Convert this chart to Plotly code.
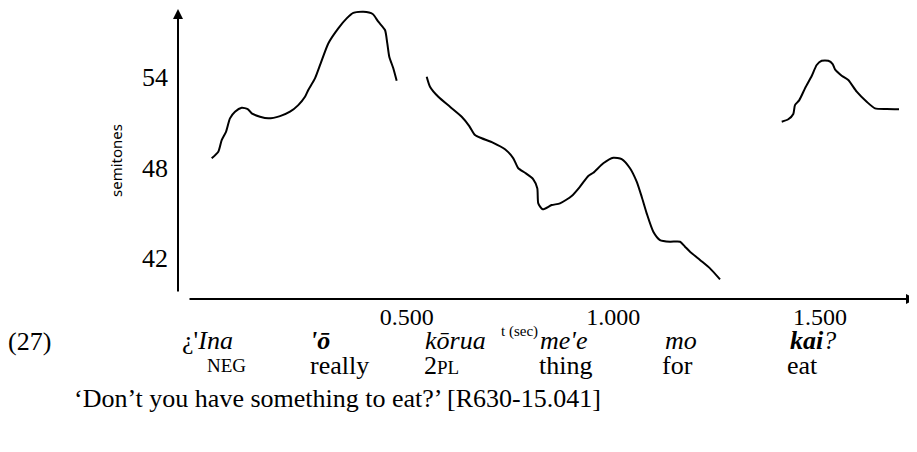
import plotly.graph_objects as go

# pitch track, three voiced stretches (time in s, pitch in semitones)
t_seg1 = [0.0283, 0.0443, 0.0525, 0.0629, 0.0726, 0.0847, 0.1009, 0.1154, 0.1251, 0.1452,
          0.1653, 0.1936, 0.2178, 0.2378, 0.2541, 0.2620, 0.2782, 0.2920, 0.3104, 0.3346,
          0.3549, 0.3709, 0.3951, 0.4179, 0.4314, 0.4476, 0.4532, 0.4580, 0.4677, 0.4759]
st_seg1 = [48.61, 49.05, 49.82, 50.37, 51.26, 51.70, 51.96, 51.88, 51.59, 51.37,
           51.26, 51.41, 51.70, 52.14, 52.69, 53.14, 53.91, 54.91, 56.23, 57.23,
           57.89, 58.26, 58.33, 58.18, 57.67, 57.12, 56.23, 55.35, 54.58, 53.75]

t_seg2 = [0.5485, 0.5565, 0.5766, 0.6049, 0.6332, 0.6516, 0.6654, 0.6816, 0.7097, 0.7380,
          0.7581, 0.7701, 0.7864, 0.8064, 0.8161, 0.8185, 0.8292, 0.8510, 0.8710, 0.8993,
          0.9194, 0.9395, 0.9516, 0.9758, 1.0000, 1.0203, 1.0404, 1.0566, 1.0687, 1.0808,
          1.0968, 1.1130, 1.1372, 1.1614, 1.1735, 1.1856, 1.2098, 1.2340, 1.2582]
st_seg2 = [54.02, 53.36, 52.69, 52.03, 51.37, 50.75, 50.15, 49.94, 49.64, 49.21,
           48.61, 47.95, 47.65, 47.22, 46.62, 45.62, 45.23, 45.51, 45.62, 46.11,
           46.73, 47.44, 47.65, 48.28, 48.65, 48.56, 47.95, 47.06, 46.06, 44.96,
           43.74, 43.19, 43.08, 43.08, 42.75, 42.42, 41.87, 41.31, 40.58]

t_seg3 = [1.4075, 1.4234, 1.4355, 1.4396, 1.4500, 1.4638, 1.4800, 1.4921, 1.5042, 1.5202,
          1.5308, 1.5364, 1.5526, 1.5686, 1.5889, 1.6131, 1.6332, 1.6615, 1.6913]
st_seg3 = [51.04, 51.20, 51.55, 52.14, 52.47, 53.25, 54.07, 54.80, 55.08, 55.08,
           54.86, 54.51, 54.09, 53.80, 53.03, 52.36, 51.92, 51.88, 51.86]

x_ticks = [0.5, 1.0, 1.5]
x_tick_labels = ["0.500", "1.000", "1.500"]
y_ticks = [42, 48, 54]

# interlinear gloss
words = ["¿'<i>Ina</i>", "<b><i>'ō</i></b>", "<i>kōrua</i>", "<i>me'e</i>", "<i>mo</i>",
         "<b><i>kai</i></b><i>?</i>"]
glosses = ["<span style='font-size:19px'>NEG</span>", "really", "2<span style='font-size:19px'>PL</span>",
           "thing", "for", "eat"]
translation = "‘Don’t you have something to eat?’ [R630-15.041]"
example_no = "(27)"

# page has an 8px body margin, so the figure is 8px smaller and layout below is given in page pixels
OFF = 8
W, H = 917 - OFF, 452 - OFF
L, R, T, B = 170, 0, 0, 153
SERIF = "Liberation Serif"


def px(x):
    return (x - OFF - L) / (W - L - R)


def py(y):
    return (H - B - (y - OFF)) / (H - T - B)


def label(x, y, text, size, **kw):
    kw.setdefault("xanchor", "left")
    fig.add_annotation(x=px(x), y=py(y), xref="paper", yref="paper", text=text, yanchor="middle",
                       showarrow=False, font=dict(family=kw.pop("family", SERIF), size=size, color="black"),
                       **kw)


fig = go.Figure()
for xs, ys in [(t_seg1, st_seg1), (t_seg2, st_seg2), (t_seg3, st_seg3)]:
    fig.add_trace(go.Scatter(x=xs, y=ys, mode="lines",
                             line=dict(color="black", width=2, shape="spline", smoothing=0.6),
                             hoverinfo="skip", showlegend=False))

fig.update_xaxes(range=[-0.0532, 1.7348], tickvals=x_ticks, ticktext=x_tick_labels,
                 showgrid=False, zeroline=False, showline=False, ticks="",
                 tickfont=dict(family=SERIF, size=24, color="black"), ticklabelstandoff=1)
fig.update_yaxes(range=[39.28, 58.58], tickvals=y_ticks,
                 showgrid=False, zeroline=False, showline=False, ticks="",
                 tickfont=dict(family=SERIF, size=26, color="black"), ticklabelstandoff=9)

# axis arrows
fig.add_annotation(x=0, y=1, xref="paper", yref="paper", ax=0, ay=285, axref="pixel", ayref="pixel",
                   text="", showarrow=True, arrowhead=2, arrowsize=1, arrowwidth=2, arrowcolor="black")
fig.add_annotation(x=1, y=0, xref="paper", yref="paper", ax=-729, ay=0, axref="pixel", ayref="pixel",
                   text="", showarrow=True, arrowhead=2, arrowsize=1, arrowwidth=2, arrowcolor="black")

label(116, 161, "semitones", 15, family="Noto Sans", textangle=-90, xanchor="center")
label(519, 331, "t (sec)", 15, xanchor="center")
label(6, 341, example_no, 26)

word_x = [180, 308, 423, 538, 663, 788]
gloss_x = [205, 308, 422, 537, 660, 785]
for w, x in zip(words, word_x):
    label(x, 340, w, 26)
for g, x in zip(glosses, gloss_x):
    label(x, 365, g, 26)
label(72, 398, translation, 26)

fig.update_layout(width=W, height=H, margin=dict(l=L, r=R, t=T, b=B),
                  plot_bgcolor="white", paper_bgcolor="white")

fig.write_html("out.html")
